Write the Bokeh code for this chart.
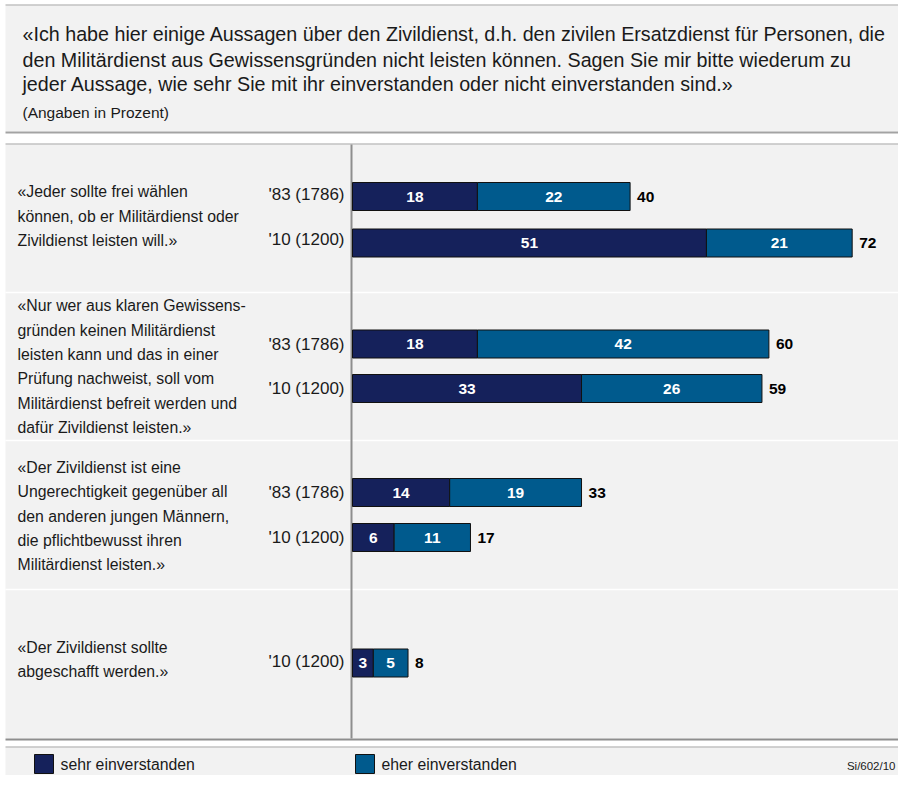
from bokeh.plotting import figure
from bokeh.models import Range1d, ColumnDataSource
from bokeh.core.properties import value
from bokeh.embed import file_html
from bokeh.resources import INLINE

# ---------------- data ----------------
title_lines = [
    "«Ich habe hier einige Aussagen über den Zivildienst, d.h. den zivilen Ersatzdienst für Personen, die",
    "den Militärdienst aus Gewissensgründen nicht leisten können. Sagen Sie mir bitte wiederum zu",
    "jeder Aussage, wie sehr Sie mit ihr einverstanden oder nicht einverstanden sind.»",
]
subtitle = "(Angaben in Prozent)"
statements = [
    ["«Jeder sollte frei wählen", "können, ob er Militärdienst oder", "Zivildienst leisten will.»"],
    ["«Nur wer aus klaren Gewissens-", "gründen keinen Militärdienst", "leisten kann und das in einer",
     "Prüfung nachweist, soll vom", "Militärdienst befreit werden und", "dafür Zivildienst leisten.»"],
    ["«Der Zivildienst ist eine", "Ungerechtigkeit gegenüber all", "den anderen jungen Männern,",
     "die pflichtbewusst ihren", "Militärdienst leisten.»"],
    ["«Der Zivildienst sollte", "abgeschafft werden.»"],
]
row_labels = ["'83 (1786)", "'10 (1200)", "'83 (1786)", "'10 (1200)", "'83 (1786)", "'10 (1200)", "'10 (1200)"]
sehr = [18, 51, 18, 33, 14, 6, 3]
eher = [22, 21, 42, 26, 19, 11, 5]
totals = [40, 72, 60, 59, 33, 17, 8]
series_names = ["sehr einverstanden", "eher einverstanden"]
source_note = "Si/602/10"

# ---------------- layout (pixels) ----------------
W, H = 898, 775
ZERO = 352.0          # x pixel of 0 %
PXPCT = 6.94          # pixels per percent
bar_y = [196, 242.5, 343.5, 388, 492, 537, 662.5]
label_y = [194, 239, 344, 388, 492, 537, 661]
stmt_y = [[191, 216, 240], [305, 330, 354, 378, 403, 427], [467, 491, 516, 540, 564], [647, 671]]

NAVY = "#15215b"
BLUE = "#005a8d"
BG = "#f2f2f2"
LINE = "#a3a3a3"
FONT = "Liberation Sans"
TXT = "#1a1a1a"
L, R = 5, W

p = figure(width=W, height=H, output_backend="svg", toolbar_location=None,
           x_range=Range1d((0 - ZERO) / PXPCT, (W - ZERO) / PXPCT),
           y_range=Range1d(H, 0), min_border=0,
           x_axis_location=None, y_axis_location=None)
p.extra_x_ranges = {"px": Range1d(0, W)}
p.grid.visible = False
p.outline_line_color = None
p.background_fill_color = "white"
p.border_fill_color = "white"

# panels
p.quad(left=[L, L, L], right=[R, R, R], top=[5, 144, 747], bottom=[131, 738, H],
       fill_color=BG, line_color=None, x_range_name="px")
# border lines
p.segment(x0=[L] * 4, x1=[R] * 4, y0=[4.5, 132, 143.5, 746.5], y1=[4.5, 132, 143.5, 746.5],
          line_color=LINE, line_width=[1, 2, 1, 1], x_range_name="px")
p.segment(x0=[L], x1=[R], y0=[739], y1=[739], line_color="#8e8e8e", line_width=2, x_range_name="px")
# group separators (white)
p.segment(x0=[L] * 3, x1=[R] * 3, y0=[292, 440, 589], y1=[292, 440, 589],
          line_color="white", line_width=1.5, x_range_name="px")
# vertical axis line
p.segment(x0=[351], x1=[351], y0=[144], y1=[738], line_color="#8e8e8e", line_width=2, x_range_name="px")

# title
p.text(x=[22] * 3, y=[33, 59, 83], text=title_lines, text_font=value(FONT), text_font_size="19.7px",
       text_color=TXT, text_baseline="middle", x_range_name="px")
p.text(x=[22], y=[112], text=[subtitle], text_font=value(FONT), text_font_size="15.5px",
       text_color=TXT, text_baseline="middle", x_range_name="px")

# statements
sx, sy, st = [], [], []
for lines, ys in zip(statements, stmt_y):
    for t, yy in zip(lines, ys):
        sx.append(17); sy.append(yy); st.append(t)
p.text(x=sx, y=sy, text=st, text_font=value(FONT), text_font_size="15.8px", text_color=TXT,
       text_baseline="middle", x_range_name="px")
# row labels
p.text(x=[344] * len(row_labels), y=label_y, text=row_labels, text_font=value(FONT), text_font_size="17px",
       text_color=TXT, text_baseline="middle", text_align="right", x_range_name="px")

# bars
cum = [a + b for a, b in zip(sehr, eher)]
src = ColumnDataSource(dict(y=bar_y, sehr=sehr, eher=eher, cum=cum, zero=[0] * len(sehr),
                            tot=totals, ms=[a / 2 for a in sehr], me=[a + b / 2 for a, b in zip(sehr, eher)],
                            sl=[str(v) for v in sehr], el=[str(v) for v in eher], tl=[str(v) for v in totals]))
p.hbar(y="y", left="zero", right="sehr", height=28, fill_color=NAVY, line_color="#111111", line_width=1, source=src)
p.hbar(y="y", left="sehr", right="cum", height=28, fill_color=BLUE, line_color="#111111", line_width=1, source=src)
p.text(x="ms", y="y", text="sl", source=src, text_font=value(FONT), text_font_size="15.5px", text_font_style="bold",
       text_color="white", text_align="center", text_baseline="middle")
p.text(x="me", y="y", text="el", source=src, text_font=value(FONT), text_font_size="15.5px", text_font_style="bold",
       text_color="white", text_align="center", text_baseline="middle")
p.text(x="cum", y="y", text="tl", source=src, x_offset=7, text_font=value(FONT), text_font_size="15.5px",
       text_font_style="bold", text_color="black", text_align="left", text_baseline="middle")

# legend
p.quad(left=[34, 355], right=[53, 374], top=[754, 754], bottom=[773, 773], fill_color=[NAVY, BLUE],
       line_color="#111111", line_width=1, x_range_name="px")
p.text(x=[60, 381], y=[763.5, 763.5], text=series_names, text_font=value(FONT), text_font_size="15.8px",
       text_color=TXT, text_baseline="middle", x_range_name="px")
p.text(x=[895], y=[765], text=[source_note], text_font=value(FONT), text_font_size="11.5px",
       text_color=TXT, text_baseline="middle", text_align="right", x_range_name="px")

open("out.html", "w").write(file_html(p, INLINE))
